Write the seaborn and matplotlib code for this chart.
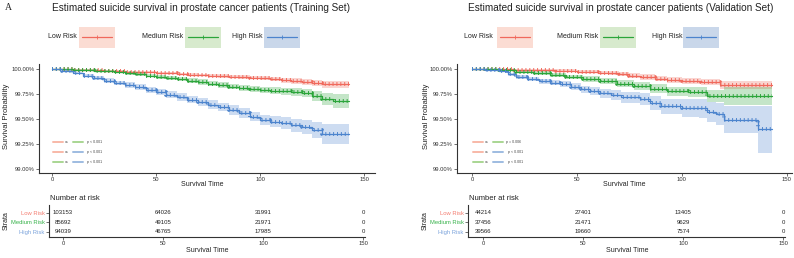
import numpy as np
import pandas as pd
import matplotlib.pyplot as plt
import seaborn as sns
from matplotlib.ticker import PercentFormatter
from matplotlib.patches import Rectangle
from matplotlib.lines import Line2D

# ---------------- data ----------------
groups = ["Low Risk", "Medium Risk", "High Risk"]

# training set, survival in %, ci = half width of band
tr_low_t = [0, 5, 10, 15, 20, 25, 30, 35, 40, 45, 50, 55, 60, 65, 70, 75, 80, 85, 90, 95, 100, 105, 110, 115, 120, 125, 130, 143]
tr_low_s = [100, 99.998, 99.995, 99.992, 99.99, 99.985, 99.98, 99.975, 99.97, 99.967, 99.963, 99.957, 99.95, 99.945,
            99.94, 99.935, 99.93, 99.925, 99.92, 99.915, 99.91, 99.90, 99.89, 99.88, 99.87, 99.86, 99.85, 99.85]
tr_low_ci = [0, .002, .003, .004, .005, .006, .007, .008, .009, .0095, .01, .011, .012, .013, .014, .015, .016, .017,
             .018, .019, .02, .022, .025, .027, .03, .033, .035, .04]

tr_med_t = [0, 5, 10, 15, 20, 25, 30, 35, 40, 45, 50, 55, 60, 65, 70, 75, 80, 85, 90, 95, 100, 105, 110, 115, 120, 125, 130, 135, 143]
tr_med_s = [100, 99.998, 99.995, 99.99, 99.985, 99.978, 99.97, 99.96, 99.95, 99.935, 99.92, 99.91, 99.90, 99.885, 99.87,
            99.855, 99.84, 99.825, 99.81, 99.80, 99.79, 99.785, 99.78, 99.77, 99.76, 99.73, 99.70, 99.68, 99.68]
tr_med_ci = [0, .003, .005, .007, .009, .011, .013, .015, .017, .019, .021, .022, .023, .024, .025, .026, .027, .028,
             .03, .031, .033, .034, .035, .037, .04, .05, .06, .07, .08]

tr_high_t = [0, 5, 10, 15, 20, 25, 30, 35, 40, 45, 50, 55, 60, 65, 70, 75, 80, 85, 90, 95, 100, 105, 110, 115, 120, 125, 130, 143]
tr_high_s = [100, 99.98, 99.96, 99.935, 99.91, 99.885, 99.86, 99.84, 99.82, 99.795, 99.77, 99.745, 99.72, 99.695, 99.67,
             99.645, 99.62, 99.59, 99.56, 99.525, 99.49, 99.475, 99.46, 99.44, 99.42, 99.39, 99.35, 99.35]
tr_high_ci = [0, .008, .012, .015, .018, .021, .024, .026, .028, .03, .032, .034, .036, .038, .04, .042, .044, .046,
              .048, .05, .053, .056, .06, .065, .07, .08, .1, .1]

# validation set, survival in %
va_low_t = [0, 10, 20, 30, 40, 50, 60, 65, 70, 75, 80, 87, 93, 100, 109, 118, 143]
va_low_s = [100, 99.998, 99.995, 99.99, 99.985, 99.975, 99.965, 99.958, 99.95, 99.935, 99.92, 99.905, 99.89, 99.88,
            99.87, 99.84, 99.84]
va_low_ci = [0, .004, .007, .01, .012, .015, .018, .02, .022, .024, .026, .028, .03, .032, .034, .04, .04]

va_med_t = [0, 7, 13, 21, 29, 37, 45, 53, 61, 69, 77, 85, 93, 103, 112, 120, 143]
va_med_s = [100, 99.998, 99.99, 99.975, 99.96, 99.94, 99.92, 99.90, 99.88, 99.855, 99.83, 99.805, 99.78, 99.77,
            99.73, 99.73, 99.73]
va_med_ci = [0, .005, .008, .012, .016, .02, .024, .027, .03, .034, .038, .042, .045, .05, .06, .09, .09]

va_high_t = [0, 6, 13, 17, 21, 26, 32, 37, 42, 47, 52, 56, 61, 66, 71, 80, 85, 90, 100, 108, 112, 116, 120, 136, 143]
va_high_s = [100, 99.995, 99.98, 99.95, 99.92, 99.90, 99.88, 99.865, 99.85, 99.825, 99.80, 99.78, 99.76, 99.74, 99.72,
             99.70, 99.665, 99.63, 99.61, 99.61, 99.57, 99.55, 99.49, 99.40, 99.40]
va_high_lo = [100, 99.99, 99.968, 99.935, 99.90, 99.878, 99.855, 99.838, 99.82, 99.792, 99.765, 99.74, 99.715, 99.69,
              99.665, 99.64, 99.595, 99.55, 99.52, 99.51, 99.47, 99.44, 99.36, 99.16, 99.16]
va_high_hi = [100, 99.999, 99.992, 99.965, 99.94, 99.922, 99.905, 99.892, 99.88, 99.858, 99.835, 99.82, 99.805, 99.79,
              99.775, 99.76, 99.735, 99.70, 99.70, 99.70, 99.67, 99.66, 99.63, 99.63, 99.63]

risk_times = [0, 50, 100, 150]
tr_risk_low = [103153, 64026, 31991, 0]
tr_risk_med = [85692, 49105, 21971, 0]
tr_risk_high = [94039, 46765, 17985, 0]
va_risk_low = [44214, 27401, 13405, 0]
va_risk_med = [37456, 21471, 9629, 0]
va_risk_high = [39566, 19660, 7574, 0]

tr_pvals = ["p < 0.001", "p < 0.001", "p < 0.001"]
va_pvals = ["p = 0.006", "p < 0.001", "p < 0.001"]

# ---------------- style ----------------
line_cols = ["#F0695C", "#2BA53A", "#4C84CD"]
box_cols = ["#FBDCD3", "#D7EACD", "#C9D7EA"]
strata_cols = ["#F47C70", "#37B24A", "#7BA3DC"]
pale_cols = ["#F8B9A8", "#A9D693", "#9EBCE1"]

sns.set_theme(style="ticks")
plt.rcParams["font.family"] = ["Liberation Sans", "DejaVu Sans"]

W, H = 794, 258
fig = plt.figure(figsize=(W / 100, H / 100), dpi=100)


def ax_box(l, t, r, b):
    return fig.add_axes([l / W, 1 - b / H, (r - l) / W, (b - t) / H])


def ftext(x, y, s, **kw):
    kw.setdefault("ha", "center")
    kw.setdefault("va", "center")
    return fig.text(x / W, 1 - y / H, s, **kw)


def style_axis(ax):
    for sp in ["top", "right"]:
        ax.spines[sp].set_visible(False)
    for sp in ["left", "bottom"]:
        ax.spines[sp].set_linewidth(0.8)
        ax.spines[sp].set_color("#333333")
    ax.tick_params(labelsize=4.2, length=2, width=0.5, pad=1, colors="#333333")
    ax.set_xlabel("")
    ax.set_ylabel("")


def km_panel(ax, series, xlim):
    for (t, s, lo, hi), col in zip(series, line_cols):
        ax.fill_between(t, lo, hi, step="post", color=col, alpha=0.28, lw=0)
        df = pd.DataFrame({"time": t, "surv": s})
        sns.lineplot(data=df, x="time", y="surv", ax=ax, color=col, lw=0.9,
                     drawstyle="steps-post", sort=False, estimator=None)
        # censoring ticks
        sns.lineplot(data=df, x="time", y="surv", ax=ax, color=col, lw=2.8,
                     drawstyle="steps-post", sort=False, estimator=None,
                     linestyle=(0, (0.25, 0.75)), dash_capstyle="butt")
    ax.set_xlim(*xlim)
    ax.set_ylim(98.96, 100.05)
    ax.set_xticks([0, 50, 100, 150])
    ax.set_yticks([99.0, 99.25, 99.5, 99.75, 100.0])
    ax.yaxis.set_major_formatter(PercentFormatter(xmax=100, decimals=2))
    style_axis(ax)


def sym(t, s, ci):
    s = np.array(s)
    ci = np.array(ci)
    return (t, s, s - ci, s + ci)


def risk_table(ax, counts, xlim):
    ypos = [3, 2, 1]
    for row, y in zip(counts, ypos):
        for t, n in zip(risk_times, row):
            ax.text(t, y, str(n), ha="center", va="center", fontsize=4.3, color="#222222")
    ax.set_xlim(*xlim)
    ax.set_ylim(0.47, 3.84)
    ax.set_xticks(risk_times)
    ax.set_yticks(ypos)
    ax.set_yticklabels(groups)
    style_axis(ax)
    for lab, c in zip(ax.get_yticklabels(), strata_cols):
        lab.set_color(c)


def legend_row(text_right, box_left, y=37):
    for tr, bl, g, lc, bc in zip(text_right, box_left, groups, line_cols, box_cols):
        ftext(tr, y, g, ha="right", fontsize=5, color="#222222")
        fig.add_artist(Rectangle((bl / W, 1 - 48 / H), 36 / W, 21 / H,
                                 transform=fig.transFigure, color=bc, lw=0))
        fig.add_artist(Line2D([(bl + 3) / W, (bl + 33) / W], [1 - y / H, 1 - y / H],
                              transform=fig.transFigure, color=lc, lw=0.9))
        fig.add_artist(Line2D([(bl + 18) / W], [1 - y / H], transform=fig.transFigure,
                              color=lc, marker="+", ms=2.5, mew=0.6))


def pval_legend(x0, pvals, pshift):
    pairs = [(0, 1), (0, 2), (1, 2)]
    for i, ((a, b), p) in enumerate(zip(pairs, pvals)):
        y = 1 - (142 + 10 * i) / H
        fig.add_artist(Line2D([x0 / W, (x0 + 10) / W], [y, y], transform=fig.transFigure,
                              color=pale_cols[a], lw=1.4))
        fig.add_artist(Line2D([(x0 + 20) / W, (x0 + 30) / W], [y, y], transform=fig.transFigure,
                              color=pale_cols[b], lw=1.4))
        ftext(x0 + 14, 142 + 10 * i, "vs", fontsize=2.6, color="#444444")
        ftext(x0 + 34 + pshift[i], 142 + 10 * i, p, ha="left", fontsize=2.6, color="#444444")


# ---------------- training panel ----------------
ax1 = ax_box(39, 64, 375, 173)
km_panel(ax1, [sym(tr_low_t, tr_low_s, tr_low_ci),
               sym(tr_med_t, tr_med_s, tr_med_ci),
               sym(tr_high_t, tr_high_s, tr_high_ci)], (-6.25, 155.3))
ax1t = ax_box(49, 205, 365, 237)
risk_table(ax1t, [tr_risk_low, tr_risk_med, tr_risk_high], (-7, 151))

ftext(8, 8, "A", fontsize=7, family="Liberation Serif")
ftext(201, 8, "Estimated suicide survival in prostate cancer patients (Training Set)", fontsize=7.2, color="#222222")
legend_row([77, 183, 263], [79, 185, 264])
ftext(7, 116, "Survival Probability", rotation=90, fontsize=5.5, color="#222222")
ftext(202, 185, "Survival Time", fontsize=5.0, color="#222222")
ftext(50, 199, "Number at risk", ha="left", fontsize=5.5, color="#222222")
ftext(6, 221, "Strata", rotation=90, fontsize=5.0, color="#222222")
ftext(207, 251, "Survival Time", fontsize=5.0, color="#222222")
pval_legend(53, tr_pvals, [0, 0, 0])

# ---------------- validation panel ----------------
ax2 = ax_box(457, 64, 792, 173)
km_panel(ax2, [sym(va_low_t, va_low_s, va_low_ci),
               sym(va_med_t, va_med_s, va_med_ci),
               (va_high_t, va_high_s, va_high_lo, va_high_hi)], (-7.1, 152.4))
ax2t = ax_box(468, 205, 785, 237)
risk_table(ax2t, [va_risk_low, va_risk_med, va_risk_high], (-7.5, 151))

ftext(621, 8, "Estimated suicide survival in prostate cancer patients (Validation Set)", fontsize=7.2, color="#222222")
legend_row([493, 598, 682], [497, 600, 683])
ftext(427, 116, "Survival Probability", rotation=90, fontsize=5.5, color="#222222")
ftext(624, 185, "Survival Time", fontsize=5.0, color="#222222")
ftext(469, 199, "Number at risk", ha="left", fontsize=5.5, color="#222222")
ftext(425, 221, "Strata", rotation=90, fontsize=5.0, color="#222222")
ftext(627, 251, "Survival Time", fontsize=5.0, color="#222222")
pval_legend(473, va_pvals, [-1, 1, 1])

fig.savefig("out.png", dpi=100)
